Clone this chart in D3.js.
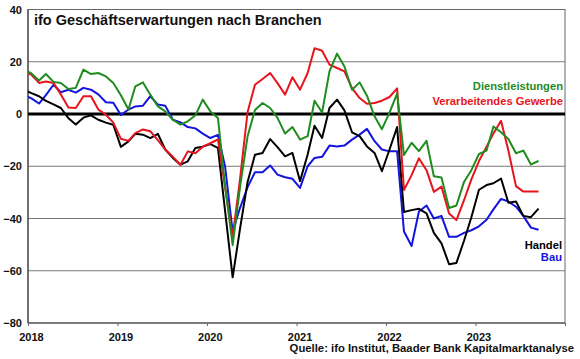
<!DOCTYPE html>
<html><head><meta charset="utf-8">
<script src="https://cdn.jsdelivr.net/npm/d3@7"></script>
<style>
body{margin:0;background:#fff}
svg text{font-family:Arial,"Liberation Sans",sans-serif;font-weight:bold}
</style>
</head><body>
<svg id="chart" width="580" height="359"></svg>
<script>
// ---- Data (monthly, Dec 2017 .. Sep 2023; first value sits at the left edge) ----
const months = d3.timeMonth.range(new Date(2017, 11, 1), new Date(2023, 9, 1));

const dienstleistungen = [17, 15.5, 12.8, 15.3, 12.3, 11.9, 9.6, 10.0, 17.0, 15.3, 15.7, 14.4, 11.9,
  7.2, 1.7, 10.6, 12.1, 7.4, 2.9, 1.0, -2.2, -4.1, -2.8, -0.5, 5.5,
  1.0, -1.5, -27.5, -50.2, -28, -8.5, 1.5, 4.2, 2.3, -1.5, -7.5, -5.0,
  -9.8, -8.5, 5.1, 0.6, 16.3, 23.1, 18.2, 9.3, 12.1, 7.0, -0.9, -5.8,
  0.5, 7.8, -15.7, -11, -14.2, -10.3, -23.8, -24.3, -36, -35, -26, -21.5,
  -15.3, -14, -4.8, -7, -9.6, -15, -14, -19.3, -18];

const verarbeitendes = [16.5, 15.0, 11.9, 12.4, 11.9, 7.5, 2.5, 2.3, 6.8, 6.8, 1.7, -0.3, -3.3,
  -9.5, -10.3, -7.3, -5.9, -6.6, -10, -13.6, -16.4, -19.4, -14.3, -15, -12.5,
  -11.2, -9.7, -28, -47, -25, 0.8, 11.2, 13.4, 15.7, 11.8, 7.4, 14.1,
  9.3, 15.7, 25.2, 24.2, 18.9, 17.6, 16.3, 9.9, 6.1, 3.9, 4.2, 5.1,
  6.5, 9.8, -29.1, -23.4, -17, -21.5, -29.8, -27.8, -38.1, -40.6, -33, -25,
  -18, -12.5, -7.5, -2.6, -14, -27.6, -29.7, -29.7, -29.7];

const handel = [9.3, 8.0, 6.8, 5.0, 3.7, 2.3, -1.6, -4.0, -1.4, -0.5, -2.2, -3.3, -4.1,
  -12.6, -10.5, -7.6, -7.9, -9.2, -7.6, -13.6, -16.8, -19.4, -18.1, -13, -12.5,
  -11.5, -13, -37, -62.5, -44, -26, -15.6, -14.9, -9.6, -12.7, -16.2, -14.9,
  -25.7, -15.5, -4.5, -9.2, 2.3, 5.5, 1.4, -7.0, -8.5, -12.4, -14.9, -21.9,
  -13.6, -5.0, -37.5, -36.8, -36.3, -38, -45.5, -49.5, -57.5, -57, -48.5, -39.5,
  -29, -27.2, -26.5, -24.7, -34, -33.5, -39, -39.5, -36.2];

const bau = [7.3, 6.0, 4.0, 7.2, 11.2, 8.3, 9.3, 8.2, 10.0, 9.3, 7.5, 4.5, 4.3,
  -0.4, 1.7, 2.9, 3.2, 6.8, 3.6, 3.2, -2.2, -3.2, -5.0, -5.5, -7.5,
  -9.2, -8.0, -20, -45, -36, -28, -22.3, -22.3, -19.7, -23.2, -24.2, -24.8,
  -28.3, -20, -16.8, -16.4, -12.1, -12.4, -12.1, -9.8, -7.9, -5.7, -10.4, -13.6,
  -14.3, -14.3, -45, -50.5, -37.3, -35, -40, -39, -47, -47, -45.5, -44.5,
  -43, -40.5, -36.5, -32.5, -33.5, -35.5, -39, -43.5, -44.3];

const seriesNames = ["Dienstleistungen", "Verarbeitendes Gewerbe", "Handel", "Bau"];
const seriesValues = [dienstleistungen, verarbeitendes, handel, bau];
const seriesColors = ["#1f8c1f", "#e8141c", "#000000", "#1414e0"];

const yTicks = [40, 20, 0, -20, -40, -60, -80];
const yearTicks = [2018, 2019, 2020, 2021, 2022, 2023, 2024];
const yearLabels = ["2018", "2019", "2020", "2021", "2022", "2023"];

const titleText = "ifo Geschäftserwartungen nach Branchen";
const sourceText = "Quelle: ifo Institut, Baader Bank Kapitalmarktanalyse";

// ---- Layout ----
const svg = d3.select("#chart");
const L = 28, R = 565, T = 9.5, B = 323;

const x = d3.scaleTime().domain([new Date(2018, 0, 1), new Date(2024, 0, 1)]).range([L, R]);
const y = d3.scaleLinear().domain([-80, 40]).range([B, T]);
const pt = m => d3.timeDay.offset(m, 14);

svg.append("defs").append("clipPath").attr("id", "plotclip")
  .append("rect").attr("x", L).attr("y", T - 5).attr("width", R - L).attr("height", B - T + 10);

// gridlines
svg.append("g").selectAll("line").data(yTicks.filter(v => v !== 40 && v !== -80 && v !== 0))
  .join("line")
  .attr("x1", L).attr("x2", R)
  .attr("y1", d => y(d)).attr("y2", d => y(d))
  .attr("stroke", "#7a7a7a").attr("stroke-width", 1);

// frame
svg.append("rect").attr("x", L).attr("y", T).attr("width", R - L).attr("height", B - T)
  .attr("fill", "none").attr("stroke", "#666").attr("stroke-width", 1);
svg.append("line").attr("x1", L).attr("x2", L).attr("y1", T).attr("y2", B)
  .attr("stroke", "#444").attr("stroke-width", 1.2);
svg.append("line").attr("x1", L).attr("x2", R).attr("y1", B).attr("y2", B)
  .attr("stroke", "#444").attr("stroke-width", 1.2);

// y axis labels
const yAxis = d3.axisLeft(y).tickValues(yTicks).tickSize(0).tickPadding(5).tickFormat(d3.format("d"));
const gy = svg.append("g").attr("transform", `translate(${L - 1},0)`).call(yAxis);
gy.select(".domain").remove();
gy.selectAll("text").attr("font-size", 11).attr("fill", "#111")
  .style("font-family", "Arial, 'Liberation Sans', sans-serif").style("font-weight", "bold");

// x axis ticks
const xAxis = d3.axisBottom(x).tickValues(yearTicks.map(yy => new Date(yy, 0, 1))).tickSize(3).tickFormat("");
const gx = svg.append("g").attr("transform", `translate(0,${B})`).call(xAxis);
gx.select(".domain").remove();
gx.selectAll("line").attr("stroke", "#666");
// x labels (centred on January's data point)
svg.append("g").selectAll("text").data(yearLabels).join("text")
  .attr("x", d => x(pt(new Date(+d, 0, 1))))
  .attr("y", 341)
  .attr("text-anchor", "middle").attr("font-size", 11).attr("fill", "#111")
  .text(d => d);

// zero line
svg.append("line").attr("x1", L).attr("x2", R).attr("y1", y(0)).attr("y2", y(0))
  .attr("stroke", "#000").attr("stroke-width", 3);

// series
const line = d3.line().x((d, i) => x(pt(months[i]))).y(d => y(d));
const gl = svg.append("g").attr("clip-path", "url(#plotclip)");
// draw order: Bau, Handel, Verarbeitendes, Dienstleistungen
[3, 2, 1, 0].forEach(k => {
  gl.append("path").datum(seriesValues[k])
    .attr("d", line)
    .attr("fill", "none")
    .attr("stroke", seriesColors[k])
    .attr("stroke-width", 2)
    .attr("stroke-linejoin", "round");
});

// title
svg.append("text").attr("x", 34).attr("y", 25).attr("font-size", 14.5).attr("fill", "#111").text(titleText);

// legend labels
const legendPos = [[563, 90], [563, 105], [562, 249], [562, 261]];
seriesNames.forEach((n, k) => {
  svg.append("text").attr("x", legendPos[k][0]).attr("y", legendPos[k][1])
    .attr("text-anchor", "end").attr("font-size", 11.2).attr("fill", seriesColors[k]).text(n);
});

// source
svg.append("text").attr("x", 574).attr("y", 352).attr("text-anchor", "end")
  .attr("font-size", 11.3).attr("fill", "#111").text(sourceText);
</script>
</body></html>
